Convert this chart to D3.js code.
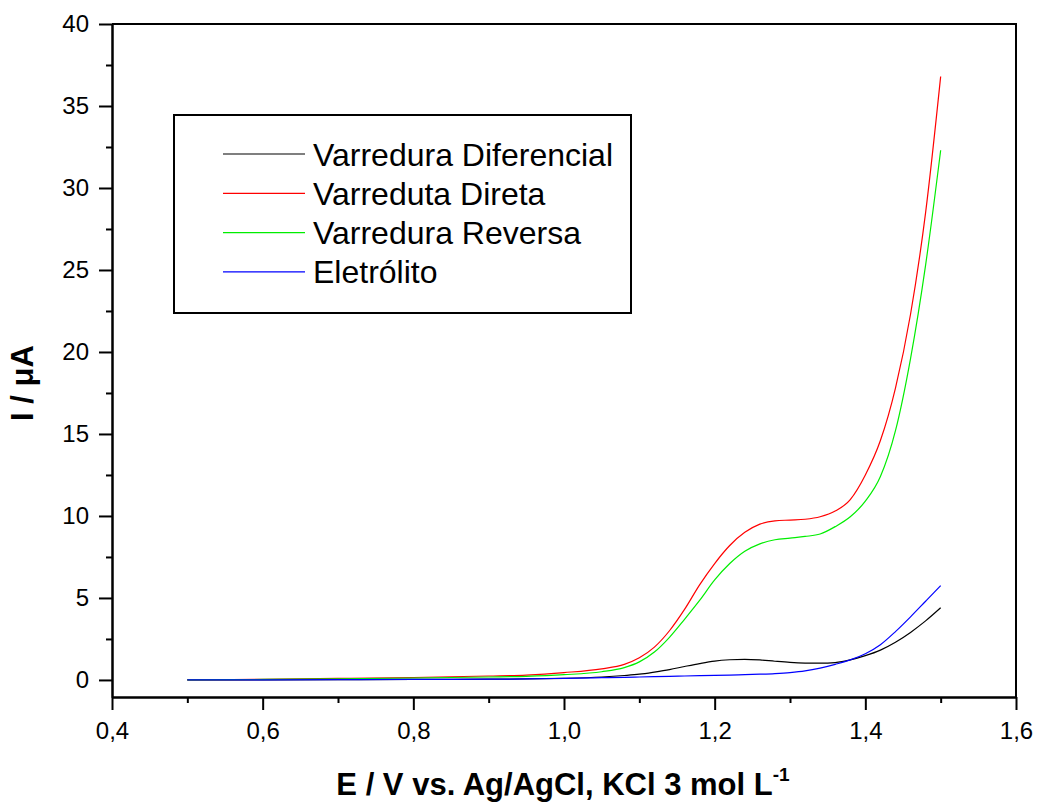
<!DOCTYPE html>
<html>
<head>
<meta charset="utf-8">
<script src="https://cdn.jsdelivr.net/npm/d3@7"></script>
<style>
  body { margin: 0; background: #fff; }
  svg { display: block; font-family: 'Liberation Sans', Arial, sans-serif; }
</style>
</head>
<body>
<div id="chart"></div>
<script>
// potential grid (V)
const potentials = [0.5, 0.6, 0.7, 0.8, 0.9, 0.95, 1.0, 1.05, 1.08, 1.1, 1.12, 1.14, 1.16, 1.18, 1.2,
  1.22, 1.24, 1.26, 1.28, 1.3, 1.32, 1.34, 1.36, 1.38, 1.4, 1.42, 1.44, 1.46, 1.48, 1.5];

// currents (uA)
const diferencial = [0, 0.01, 0.02, 0.03, 0.05, 0.06, 0.1, 0.18, 0.27, 0.35, 0.48, 0.63, 0.82, 1.0, 1.15,
  1.23, 1.26, 1.22, 1.14, 1.07, 1.03, 1.02, 1.06, 1.22, 1.48, 1.82, 2.3, 2.9, 3.6, 4.4];
const direta = [0, 0.04, 0.09, 0.15, 0.24, 0.3, 0.45, 0.68, 0.95, 1.35, 2.0, 3.0, 4.3, 5.8, 7.1,
  8.2, 9.0, 9.5, 9.7, 9.75, 9.8, 9.95, 10.3, 11.0, 12.5, 14.6, 17.8, 22.3, 28.5, 36.8];
const reversa = [0, 0.03, 0.07, 0.12, 0.18, 0.22, 0.32, 0.5, 0.75, 1.1, 1.7, 2.6, 3.7, 4.85, 6.1,
  7.1, 7.85, 8.3, 8.55, 8.65, 8.75, 8.9, 9.35, 9.95, 10.9, 12.4, 15.2, 19.6, 25.3, 32.3];
const eletrolito = [0, 0.01, 0.02, 0.03, 0.05, 0.06, 0.1, 0.14, 0.16, 0.18, 0.2, 0.22, 0.24, 0.26, 0.28,
  0.3, 0.32, 0.35, 0.39, 0.45, 0.55, 0.72, 0.95, 1.22, 1.6, 2.15, 2.95, 3.85, 4.8, 5.75];

const seriesNames = ['Varredura Diferencial', 'Varreduta Direta', 'Varredura Reversa', 'Eletrólito'];
const seriesValues = [diferencial, direta, reversa, eletrolito];
const seriesColors = ['#000000', '#ff0000', '#00ee00', '#0000ff'];

const xTicks = [0.4, 0.6, 0.8, 1.0, 1.2, 1.4, 1.6];
const yTicks = [0, 5, 10, 15, 20, 25, 30, 35, 40];

const width = 1037, height = 802;
const margin = { top: 24, right: 21, bottom: 105, left: 112 };

const svg = d3.select('#chart').append('svg')
  .attr('width', width)
  .attr('height', height);

const x = d3.scaleLinear().domain([0.4, 1.6]).range([margin.left, width - margin.right]);
const y = d3.scaleLinear().domain([-1.04, 40]).range([height - margin.bottom, margin.top]);

const fmt = d => d3.format('.1f')(d).replace('.', ',');

// bottom axis
svg.append('g')
  .attr('transform', `translate(0,${y.range()[0]})`)
  .call(d3.axisBottom(x).tickValues(xTicks).tickFormat(fmt).tickSize(13).tickSizeOuter(0).tickPadding(12));
svg.append('g')
  .attr('transform', `translate(0,${y.range()[0]})`)
  .call(d3.axisBottom(x).tickValues(d3.range(0.5, 1.6, 0.2)).tickFormat('').tickSize(6).tickSizeOuter(0));

// left axis
svg.append('g')
  .attr('transform', `translate(${margin.left},0)`)
  .call(d3.axisLeft(y).tickValues(yTicks).tickSize(13).tickSizeOuter(0).tickPadding(10));
svg.append('g')
  .attr('transform', `translate(${margin.left},0)`)
  .call(d3.axisLeft(y).tickValues(d3.range(2.5, 40, 5)).tickFormat('').tickSize(6).tickSizeOuter(0));

svg.selectAll('.domain, .tick line').attr('stroke', '#000').attr('stroke-width', 2);
svg.selectAll('.tick text').attr('fill', '#000').style('font-size', '24px');

// top and right frame
svg.append('path')
  .attr('d', `M${x.range()[0]},${y.range()[1]}H${x.range()[1]}V${y.range()[0]}`)
  .attr('fill', 'none')
  .attr('stroke', '#000')
  .attr('stroke-width', 2);

// curves
const line = d3.line()
  .x((d, i) => x(potentials[i]))
  .y(d => y(d))
  .curve(d3.curveMonotoneX);

svg.selectAll('.curve')
  .data(seriesValues)
  .join('path')
  .attr('class', 'curve')
  .attr('d', line)
  .attr('fill', 'none')
  .attr('stroke', (d, i) => seriesColors[i])
  .attr('stroke-width', 1.2);

// legend
const legend = svg.append('g');
legend.append('rect')
  .attr('x', 174).attr('y', 115)
  .attr('width', 457).attr('height', 198)
  .attr('fill', 'none')
  .attr('stroke', '#000')
  .attr('stroke-width', 2);

const rows = legend.selectAll('.row')
  .data(seriesNames)
  .join('g')
  .attr('transform', (d, i) => `translate(0,${154 + i * 39.3})`);

rows.append('line')
  .attr('x1', 223).attr('x2', 305)
  .attr('stroke', (d, i) => seriesColors[i])
  .attr('stroke-width', 1.2);

rows.append('text')
  .attr('x', 313)
  .attr('dy', '0.36em')
  .style('font-size', '32px')
  .text(d => d);

// axis titles
const xTitle = svg.append('text')
  .attr('x', 563)
  .attr('y', 795)
  .attr('text-anchor', 'middle')
  .style('font-size', '31px')
  .style('font-weight', 'bold');
xTitle.append('tspan').text('E / V vs. Ag/AgCl, KCl 3 mol L');
xTitle.append('tspan')
  .attr('dy', -14)
  .style('font-size', '19px')
  .text('-1');

svg.append('text')
  .attr('transform', 'translate(33,383) rotate(-90)')
  .attr('text-anchor', 'middle')
  .style('font-size', '31px')
  .style('font-weight', 'bold')
  .text('I / μA');
</script>
</body>
</html>
